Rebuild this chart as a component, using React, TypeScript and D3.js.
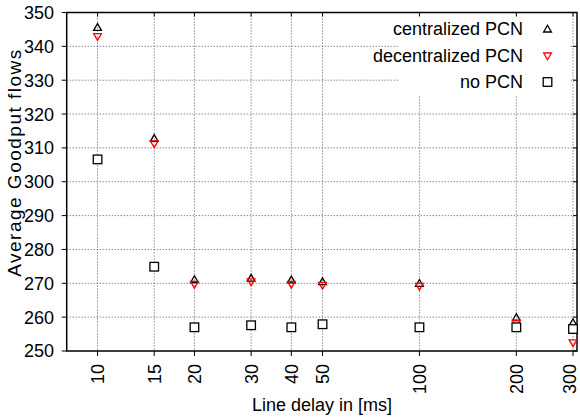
import React from "react"
import * as d3 from "d3"

const delays = [10, 15, 20, 30, 40, 50, 100, 200, 300]
const centralized = [345.6, 312.8, 271.1, 271.5, 271.0, 270.5, 270.0, 259.9, 258.4]
const decentralized = [342.9, 311.2, 269.7, 270.4, 269.7, 269.4, 269.1, 258.2, 252.4]
const noPcn = [306.6, 274.9, 257.0, 257.6, 257.0, 257.9, 257.0, 257.0, 256.5]
const yTicks = [250, 260, 270, 280, 290, 300, 310, 320, 330, 340, 350]
const legendLabels = ["centralized PCN", "decentralized PCN", "no PCN"]

const W = 580
const H = 419
const left = 66.7
const right = 577
const top = 12.5
const bottom = 351

const font = "'Liberation Sans', Arial, sans-serif"

const x = d3.scaleLog().domain([8.02, 308.7]).range([left, right])
const y = d3.scaleLinear().domain([250, 350]).range([bottom, top])

const up = (cx: number, cy: number) =>
  `M${cx},${cy - 3.8}L${cx + 3.9},${cy + 3}L${cx - 3.9},${cy + 3}Z`
const down = (cx: number, cy: number) =>
  `M${cx},${cy + 3.8}L${cx + 3.9},${cy - 3}L${cx - 3.9},${cy - 3}Z`

const Square = ({ cx, cy }: { cx: number; cy: number }) => (
  <rect x={cx - 4.3} y={cy - 4.3} width={8.6} height={8.6} fill="white" stroke="black" strokeWidth={1.3} />
)

export default function App() {
  const legendX = 547.5
  const legendY = [29, 56, 82]
  return (
    <div style={{ position: "absolute", left: 0, top: 0 }}>
      <svg width={W} height={H} style={{ display: "block", fontFamily: font }}>
        <rect width={W} height={H} fill="white" />
        {/* grid */}
        {delays.map(d => (
          <line key={"gx" + d} x1={x(d)} x2={x(d)} y1={top} y2={bottom}
            stroke="#555" strokeWidth={1} strokeDasharray="1,2" />
        ))}
        {yTicks.slice(1, -1).map(v => (
          <line key={"gy" + v} x1={left} x2={right} y1={y(v)} y2={y(v)}
            stroke="#555" strokeWidth={1} strokeDasharray="1,2" />
        ))}
        {/* legend box */}
        <rect x={398} y={16} width={172} height={80} fill="white" />
        {/* ticks */}
        {yTicks.map(v => (
          <g key={"ty" + v}>
            <line x1={left - 5} x2={left} y1={y(v)} y2={y(v)} stroke="black" />
            <line x1={right - 4} x2={right} y1={y(v)} y2={y(v)} stroke="black" />
            <text x={54} y={y(v)} dy="0.36em" textAnchor="end" fontSize={18}>{v}</text>
          </g>
        ))}
        {delays.map(d => (
          <g key={"tx" + d}>
            <line x1={x(d)} x2={x(d)} y1={bottom} y2={bottom + 5} stroke="black" />
            <line x1={x(d)} x2={x(d)} y1={top} y2={top + 4} stroke="black" />
            <text transform={`translate(${Math.min(x(d), 569.5)},${bottom + 13}) rotate(-90)`} dy="0.36em"
              textAnchor="end" fontSize={18}>{d}</text>
          </g>
        ))}
        {/* frame */}
        <rect x={left} y={top} width={right - left} height={bottom - top}
          fill="none" stroke="black" strokeWidth={1.5} />
        {/* data */}
        {delays.map((d, i) => (
          <path key={"c" + d} d={up(x(d), y(centralized[i]))} fill="none" stroke="black" strokeWidth={1.3} />
        ))}
        {delays.map((d, i) => (
          <path key={"d" + d} d={down(x(d), y(decentralized[i]))} fill="none" stroke="#ff0000" strokeWidth={1.3} />
        ))}
        {delays.map((d, i) => (
          <Square key={"n" + d} cx={x(d)} cy={y(noPcn[i])} />
        ))}
        {/* legend */}
        {legendLabels.map((l, i) => (
          <text key={l} x={523} y={legendY[i]} dy="0.36em" textAnchor="end" fontSize={18}>{l}</text>
        ))}
        <path d={up(legendX, legendY[0])} fill="none" stroke="black" strokeWidth={1.3} />
        <path d={down(legendX, legendY[1])} fill="none" stroke="#ff0000" strokeWidth={1.3} />
        <Square cx={legendX} cy={legendY[2]} />
        {/* axis labels */}
        <text x={322} y={411} textAnchor="middle" fontSize={18}>Line delay in [ms]</text>
        <text transform={`translate(21,162.5) rotate(-90)`} textAnchor="middle" fontSize={19} letterSpacing={1.5}>
          Average Goodput flows
        </text>
      </svg>
    </div>
  )
}
